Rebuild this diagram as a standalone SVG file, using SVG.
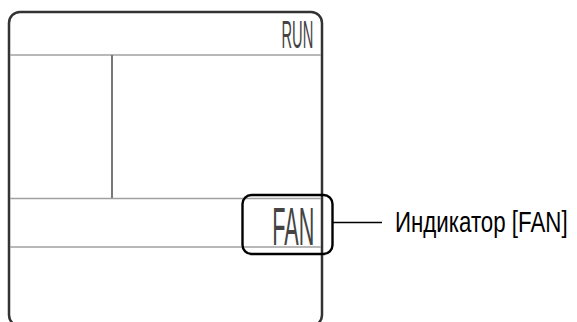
<svg xmlns="http://www.w3.org/2000/svg" width="577" height="322" viewBox="0 0 577 322">
<style>
.frame{fill:none;stroke:#333;stroke-width:2.5}
.hline{stroke:#a0a0a0;stroke-width:1.6}
.vline{stroke:#777;stroke-width:2}
.lcd{font-family:"Liberation Sans",Arial,sans-serif;fill:#444}
.label{font-family:"Liberation Sans",Arial,sans-serif;fill:#000;font-size:22.3px}
.callout{fill:none;stroke:#000;stroke-width:2.4}
</style>
<rect width="577" height="322" fill="#fff"/>
<g id="display">
<rect class="frame" x="9" y="12" width="313" height="314" rx="11" ry="11" fill="#fdfdfd"/>
<line class="hline" x1="10" y1="55" x2="321" y2="55"/>
<line class="vline" x1="112" y1="55" x2="112" y2="198.5"/>
<line class="hline" x1="10" y1="198.5" x2="321" y2="198.5"/>
<line class="hline" x1="10" y1="247" x2="321" y2="247"/>
<text class="lcd" x="281.5" y="48.3" font-size="39" textLength="31.8" lengthAdjust="spacingAndGlyphs">RUN</text>
<text class="lcd" x="272.3" y="245" font-size="54.5" textLength="42" lengthAdjust="spacingAndGlyphs">FAN</text>
</g>
<g id="fan-indicator">
<rect class="callout" x="242.5" y="195" width="90" height="59" rx="9" ry="9"/>
</g>
<g id="connectors">
<line x1="333" y1="222.5" x2="382" y2="222.5" stroke="#000" stroke-width="1.5"/>
</g>
<g id="label">
<text class="label" transform="translate(395,231.7) scale(1,1.29)" x="0" y="0">Индикатор [FAN]</text>
</g>
</svg>
